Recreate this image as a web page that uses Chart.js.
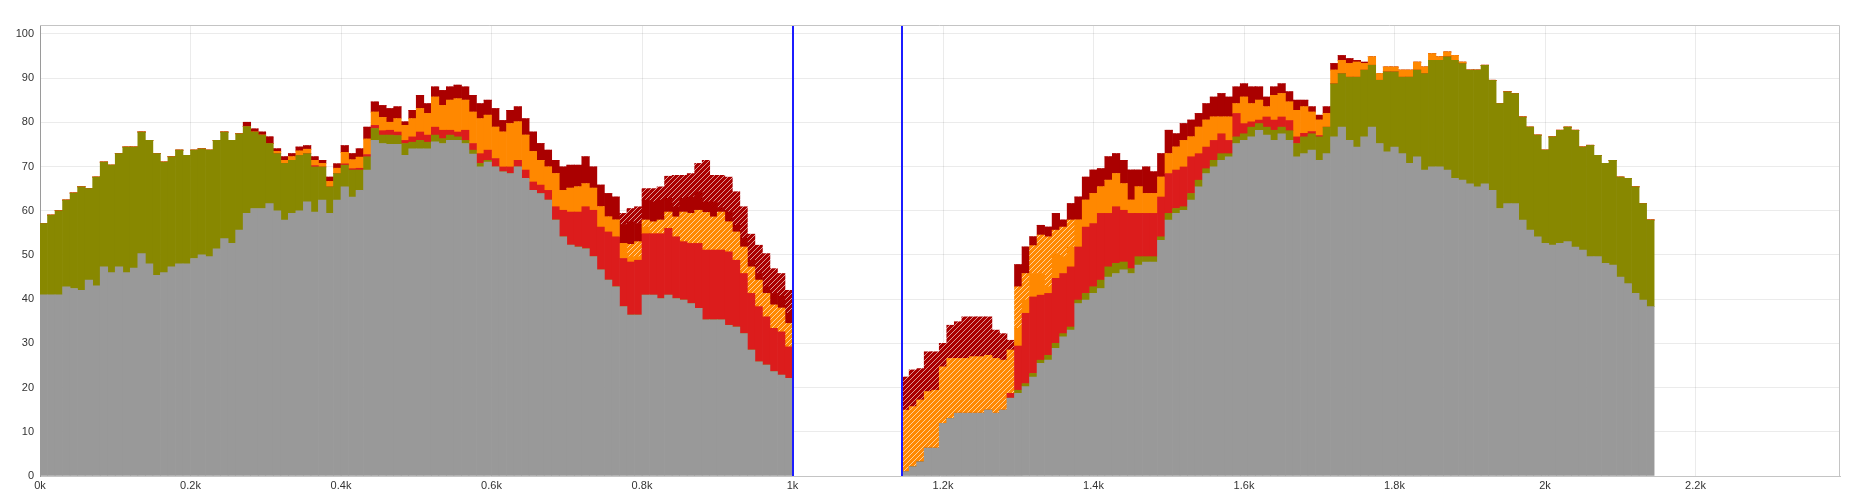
<!DOCTYPE html>
<html>
<head>
<meta charset="utf-8">
<script src="https://cdn.jsdelivr.net/npm/chart.js@4.4.1/dist/chart.umd.min.js"></script>
<style>
  html, body { margin: 0; padding: 0; background: #fff; }
  #wrap { width: 1857px; height: 504px; }
</style>
</head>
<body>
<div id="wrap"><canvas id="chart" width="1857" height="504"></canvas></div>
<script>
// two runs of 10-unit bins: 0..1000 and 1145..2145
const binWidth = 10;
const runStarts = [0, 1145];
const binsPerRun = 100;
const markerXs = [1000, 1145];
const xTicks = [0, 200, 400, 600, 800, 1000, 1200, 1400, 1600, 1800, 2000, 2200];
const yTicks = [0, 10, 20, 30, 40, 50, 60, 70, 80, 90, 100];

// each array: first 100 bins = first run, next 100 = second run
const gray = [
  41, 41, 41, 42.8, 42.4, 42, 44.3, 43, 47.3, 46,
  47.3, 46, 47, 50.3, 48, 45.4, 46, 47.3, 48, 48,
  49.2, 50, 49.6, 51.4, 53.7, 52.6, 55.6, 59.4, 60.5, 60.5,
  61.6, 60, 57.9, 59.4, 60, 62, 59.7, 62.4, 59.4, 62.4,
  65.4, 63.1, 64.6, 69.2, 75.9, 75.2, 75, 75, 72.5, 74,
  74, 74, 75.6, 75.2, 75.9, 75.9, 75.2, 72.8, 69.9, 71,
  69.9, 68.8, 68.4, 69.9, 67.3, 64.6, 63.9, 62.4, 57.9, 54.1,
  52.2, 51.8, 51.4, 49.6, 46.6, 44.3, 42.8, 38.3, 36.4, 36.4,
  40.9, 40.9, 40.1, 40.9, 40.1, 39.8, 39, 37.9, 35.3, 35.3,
  35.3, 34.1, 33.7, 32.2, 28.5, 25.8, 25.1, 23.6, 22.8, 22.1,

  1, 2.1, 3.2, 6.3, 6.3, 11.9, 13, 14.2, 14.2, 14.2,
  14.2, 14.9, 14.2, 14.9, 17.6, 18.7, 20.2, 22.4, 25.5, 26.2,
  28.9, 31.5, 33, 39, 39.8, 41.3, 42.4, 45, 45.8, 46.6,
  45.8, 47.7, 48.4, 48.4, 53.3, 57.9, 59.4, 60.1, 62.4, 65.4,
  68.4, 69.9, 71.4, 72.2, 75.2, 75.9, 76.7, 78.2, 77.1, 75.9,
  77.4, 75.9, 72.2, 72.9, 73.7, 71.4, 72.9, 76.7, 78.9, 75.9,
  74.4, 76.7, 78.9, 75.2, 73.3, 74.4, 72.9, 70.7, 72.2, 69.2,
  69.9, 69.9, 69.2, 67.3, 66.9, 66.1, 65.4, 66.1, 64.6, 60.5,
  61.6, 61.6, 57.9, 55.6, 54.1, 52.6, 52.2, 52.6, 53, 51.8,
  51.1, 49.6, 49.6, 48.1, 47.7, 45, 43.5, 41.3, 39.8, 38.3
];

const olive = [
  16.1, 18, 19, 19.6, 21.6, 23.4, 20.7, 24.6, 23.7, 24.3,
  25.6, 28.4, 27.4, 27.5, 27.9, 27.5, 25, 24.9, 25.7, 24.5,
  24.5, 24, 24.1, 24.5, 24.1, 23.3, 21.8, 19.6, 17.3, 16.6,
  13.6, 12.9, 12.8, 12, 12.5, 10.9, 10.2, 7.5, 6, 6,
  4.9, 6.1, 4.6, 3, 2.7, 1.9, 2.1, 2, 2.7, 1.5,
  1.9, 1.5, 1.5, 1.1, 1.2, 0.8, 0.7, 0.9, 0.8, 0.4,
  0, 0, 0, 0, 0, 0, 0, 0, 0, 0,
  0, 0, 0, 0, 0, 0, 0, 0, 0, 0,
  0, 0, 0, 0, 0, 0, 0, 0, 0, 0,
  0, 0, 0, 0, 0, 0, 0, 0, 0, 0,

  0, 0, 0, 0, 0, 0, 0, 0, 0, 0,
  0, 0, 0, 0, 0, 0.7, 0.7, 0.8, 0.7, 1.1,
  1.1, 0.7, 0.7, 0.8, 1.5, 1.5, 1.9, 2.3, 2.3, 1.8,
  1.1, 1.9, 1.2, 1.2, 0.8, 1.5, 1.1, 0.8, 1.5, 1.5,
  1.1, 1.5, 1.5, 0.7, 1.5, 1.5, 2.2, 1.5, 1.8, 2.3,
  1.5, 2.2, 3, 3.8, 3.7, 5.3, 6, 12, 12.1, 14.3,
  15.8, 15.1, 14, 14.3, 18.1, 17, 17.3, 19.5, 19.6, 21.8,
  24.1, 24.1, 25.6, 26.7, 26.4, 25.7, 26.4, 26.8, 24.9, 23.7,
  25.3, 24.9, 23.3, 23.3, 23, 21.1, 24.5, 25.6, 25.9, 26.4,
  23.3, 25.2, 22.9, 22.6, 23.7, 22.6, 23.8, 24.1, 21.8, 19.6
];

const red = [
  0, 0, 0, 0, 0, 0, 0, 0, 0, 0,
  0, 0, 0, 0, 0, 0, 0, 0, 0, 0,
  0, 0, 0, 0, 0, 0, 0, 0, 0, 0,
  0, 0, 0, 0, 0, 0, 0.3, 0, 0, 0,
  0.3, 0.3, 0.4, 0.5, 0.7, 1, 1.1, 0.8, 0.7, 1.2,
  1.9, 1.6, 1.8, 1.9, 1.1, 1.1, 2.3, 1.5, 2.2, 2.3,
  1.9, 1.1, 1.5, 1.5, 1.9, 1.9, 1.9, 2.2, 3, 6,
  7.5, 7.9, 9.5, 10.5, 9.7, 10.9, 11.3, 10.9, 12, 12.4,
  13.9, 13.9, 14.7, 15.1, 14, 13.2, 13.6, 14.7, 15.8, 15.8,
  15.8, 16.6, 15.1, 13.6, 12.8, 12.5, 10.9, 9.8, 9.8, 7.1,

  0, 0, 0, 0, 0, 0, 0, 0, 0, 0,
  0, 0, 0, 0, 1.1, 10, 15.9, 17.3, 14.7, 14,
  14.7, 13.6, 13.6, 12, 15, 14.3, 15.1, 12.1, 12.8, 11.7,
  12.5, 9.8, 9.8, 9.8, 9, 9, 8.7, 9, 8.3, 6,
  4.9, 4.5, 4.5, 3, 5.3, 2.3, 1.2, 0.8, 2.3, 2.3,
  2.3, 2.3, 1.5, 0.8, 0.5, 0.3, 0, 0, 0, 0,
  0, 0, 0, 0, 0, 0, 0, 0, 0, 0,
  0, 0, 0, 0, 0, 0, 0, 0, 0, 0,
  0, 0, 0, 0, 0, 0, 0, 0, 0, 0,
  0, 0, 0, 0, 0, 0, 0, 0, 0, 0
];

const orange = [
  0, 0, 0, 0, 0, 0, 0, 0, 0, 0,
  0, 0, 0, 0, 0, 0, 0, 0, 0, 0,
  0, 0, 0, 0, 0, 0, 0, 0, 0, 0,
  0, 0.5, 0.7, 0.8, 1, 1, 1.2, 0.8, 1.2, 1.2,
  2.6, 2, 2.5, 3.5, 3, 3, 1.8, 3, 3.4, 4.1,
  5.3, 4.9, 6.8, 5.6, 6.8, 7.5, 6.8, 7.1, 7.9, 7.9,
  7.1, 7.9, 9.8, 8.7, 7.9, 6.9, 5.6, 5.3, 7.5, 4.5,
  5.4, 5.7, 5.2, 5, 4.6, 3.4, 3.8, 3.4, 1.2, 0.8,
  1.5, 0, 0, 0, 0, 0, 0, 0, 0, 0,
  0, 0, 0, 0, 0, 0, 0, 0, 0, 0,

  0, 0, 0, 0, 0, 0, 0, 0, 0, 0,
  0, 0, 0, 0, 0, 4, 3, 5.3, 4.9, 1.5,
  5.6, 3.8, 4.5, 6.1, 6.1, 6.8, 6, 7.5, 7.5, 6,
  3, 6, 4.5, 4.5, 4.5, 4.5, 5.2, 6, 4.5, 6,
  6.1, 5.3, 3.8, 5.3, 2.2, 6, 4.1, 4.5, 2.3, 5.6,
  5.3, 4.2, 6, 6, 4.4, 3.5, 3.1, 3.1, 3, 3.1,
  3.4, 1.5, 1.9, 1.5, 1.1, 1.1, 1.6, 1.6, 1.8, 1.5,
  1.5, 0.8, 1.1, 1.1, 0.3, 0, 0, 0, 0, 0,
  0, 0, 0, 0, 0, 0, 0, 0, 0, 0,
  0, 0, 0, 0, 0, 0, 0, 0, 0, 0
];

const orangeHatched = [
  0, 0, 0, 0, 0, 0, 0, 0, 0, 0,
  0, 0, 0, 0, 0, 0, 0, 0, 0, 0,
  0, 0, 0, 0, 0, 0, 0, 0, 0, 0,
  0, 0, 0, 0, 0, 0, 0, 0, 0, 0,
  0, 0, 0, 0, 0, 0, 0, 0, 0, 0,
  0, 0, 0, 0, 0, 0, 0, 0, 0, 0,
  0, 0, 0, 0, 0, 0, 0, 0, 0, 0,
  0, 0, 0, 0, 0, 0, 0, 0, 2.8, 3.4,
  1.6, 2.7, 3.1, 3.7, 4.5, 6.7, 6.8, 7.5, 8.5, 7.5,
  8.6, 6.8, 6.4, 6, 6, 6, 5.3, 5.3, 5.4, 5.3,

  13.9, 13.6, 14, 12.8, 13.1, 12.8, 13.6, 12.4, 12.4, 12.8,
  12.8, 12.4, 12.4, 11.3, 9.8, 9.4, 6, 6.3, 8.7, 11.3,
  5.3, 6.7, 6.1, 0, 0, 0, 0, 0, 0, 0,
  0, 0, 0, 0, 0, 0, 0, 0, 0, 0,
  0, 0, 0, 0, 0, 0, 0, 0, 0, 0,
  0, 0, 0, 0, 0, 0, 0, 0, 0, 0,
  0, 0, 0, 0, 0, 0, 0, 0, 0, 0,
  0, 0, 0, 0, 0, 0, 0, 0, 0, 0,
  0, 0, 0, 0, 0, 0, 0, 0, 0, 0,
  0, 0, 0, 0, 0, 0, 0, 0, 0, 0
];

const darkRed = [
  0, 0, 0, 0, 0, 0, 0, 0, 0, 0,
  0, 0, 0, 0, 0, 0, 0, 0, 0, 0,
  0, 0, 0, 0, 0, 0, 0, 1, 0.7, 0.7,
  1.5, 0.6, 0.8, 0.7, 0.9, 0.8, 0.8, 0.7, 1, 1,
  1.5, 1.4, 1.9, 2.7, 2.3, 2.7, 3.1, 2.7, 0.8, 1.9,
  3, 2.2, 2.3, 3.4, 3, 3.1, 3, 3.8, 3.4, 3.4,
  4.2, 2.6, 3, 3.4, 3.7, 4.4, 3.8, 3.8, 3, 5.3,
  5.2, 4.9, 6.1, 4.8, 4.9, 5.3, 5.2, 4.3, 5.1, 4.1,
  4.5, 4.5, 4.5, 3.1, 2.3, 3.1, 3.7, 4.2, 2.4, 3.4,
  1, 2.2, 1.5, 2, 1.5, 1.5, 1.5, 2.6, 2.7, 2.3,

  0, 0, 0, 0, 0, 0, 0, 0, 0, 0,
  0, 0, 0, 0, 0, 5, 6, 2, 2.2, 2.2,
  3.8, 1.6, 3.7, 5.2, 5.2, 5.3, 4.1, 5.3, 4.5, 5.3,
  6.8, 3.8, 6, 4.9, 5.3, 5.3, 3, 3.8, 3.8, 3.1,
  3.7, 4.5, 5.3, 4.5, 3.8, 3, 3.8, 3, 2.2, 1.9,
  2.2, 2.3, 2.3, 1.5, 1.2, 1.1, 1.5, 1.5, 1.1, 1.1,
  0.4, 0.3, 0, 0, 0, 0, 0, 0, 0, 0,
  0, 0, 0, 0, 0, 0, 0, 0, 0, 0,
  0, 0, 0, 0, 0, 0, 0, 0, 0, 0,
  0, 0, 0, 0, 0, 0, 0, 0, 0, 0
];

const darkRedHatched = [
  0, 0, 0, 0, 0, 0, 0, 0, 0, 0,
  0, 0, 0, 0, 0, 0, 0, 0, 0, 0,
  0, 0, 0, 0, 0, 0, 0, 0, 0, 0,
  0, 0, 0, 0, 0, 0, 0, 0, 0, 0,
  0, 0, 0, 0, 0, 0, 0, 0, 0, 0,
  0, 0, 0, 0, 0, 0, 0, 0, 0, 0,
  0, 0, 0, 0, 0, 0, 0, 0, 0, 0,
  0, 0, 0, 0, 0, 0, 0, 2.5, 3, 3.8,
  2.6, 3, 3, 5, 7.1, 5.2, 5.3, 6.4, 9.4, 6,
  7.3, 7.9, 7.6, 7.1, 5.9, 6.4, 7.5, 5.6, 5.1, 5.2,

  7.5, 8.3, 7.1, 9, 8.7, 5.3, 7.5, 8.3, 9.4, 9,
  9, 8.7, 6.4, 6, 2.2, 0, 0, 0, 0, 0,
  0, 0, 0, 0, 0, 0, 0, 0, 0, 0,
  0, 0, 0, 0, 0, 0, 0, 0, 0, 0,
  0, 0, 0, 0, 0, 0, 0, 0, 0, 0,
  0, 0, 0, 0, 0, 0, 0, 0, 0, 0,
  0, 0, 0, 0, 0, 0, 0, 0, 0, 0,
  0, 0, 0, 0, 0, 0, 0, 0, 0, 0,
  0, 0, 0, 0, 0, 0, 0, 0, 0, 0,
  0, 0, 0, 0, 0, 0, 0, 0, 0, 0
];

// bin centres
const binCenters = [];
runStarts.forEach(start => {
  for (let i = 0; i < binsPerRun; i++) binCenters.push(start + binWidth * (i + 0.5));
});

function hatch(color) {
  const c = document.createElement('canvas');
  c.width = 5;
  c.height = 5;
  const g = c.getContext('2d');
  g.fillStyle = color;
  g.fillRect(0, 0, 5, 5);
  g.strokeStyle = 'rgba(255,255,255,0.6)';
  g.lineWidth = 1;
  g.beginPath();
  g.moveTo(0, 5); g.lineTo(5, 0);
  g.moveTo(-1, 1); g.lineTo(1, -1);
  g.moveTo(4, 6); g.lineTo(6, 4);
  g.stroke();
  return g.createPattern(c, 'repeat');
}

function series(values, fill) {
  return {
    data: values.map((v, i) => ({ x: binCenters[i], y: v })),
    backgroundColor: fill,
    borderWidth: 0,
    barPercentage: 1,
    categoryPercentage: 1
  };
}

const markers = {
  id: 'markers',
  afterDatasetsDraw(chart) {
    const { ctx, chartArea: a, scales: { x } } = chart;
    ctx.save();
    ctx.strokeStyle = '#1c1cff';
    ctx.lineWidth = 2;
    markerXs.forEach(v => {
      const px = Math.round(x.getPixelForValue(v));
      ctx.beginPath();
      ctx.moveTo(px, a.top);
      ctx.lineTo(px, a.bottom);
      ctx.stroke();
    });
    ctx.restore();
  },
  afterDraw(chart) {
    const { ctx, chartArea: a } = chart;
    ctx.save();
    ctx.lineWidth = 1;
    ctx.strokeStyle = '#c4c4c4';
    ctx.beginPath();
    ctx.moveTo(a.left, a.top + 0.5);
    ctx.lineTo(a.right - 0.5, a.top + 0.5);
    ctx.lineTo(a.right - 0.5, a.bottom);
    ctx.stroke();
    ctx.restore();
  }
};

const tickFont = { family: '"Liberation Sans", Arial, sans-serif', size: 11 };

new Chart(document.getElementById('chart'), {
  type: 'bar',
  data: {
    datasets: [
      series(gray, '#999999'),
      series(olive, '#888800'),
      series(red, '#dc1c1c'),
      series(orange, '#ff8800'),
      series(orangeHatched, hatch('#ff8800')),
      series(darkRed, '#aa0000'),
      series(darkRedHatched, hatch('#aa0000'))
    ]
  },
  options: {
    responsive: false,
    devicePixelRatio: 1,
    animation: false,
    events: [],
    layout: { padding: { top: 25, right: 17, left: 0, bottom: 0 } },
    plugins: { legend: { display: false }, tooltip: { enabled: false } },
    scales: {
      x: {
        type: 'linear',
        stacked: true,
        offset: false,
        min: 0,
        max: 2392,
        z: 1,
        afterFit: s => { s.height = 28; },
        afterBuildTicks: s => { s.ticks = xTicks.map(v => ({ value: v })); },
        grid: { color: 'rgba(0,0,0,0.08)', drawTicks: false, offset: false },
        border: { color: '#c4c4c4' },
        ticks: {
          autoSkip: false,
          padding: 3,
          color: '#333',
          font: tickFont,
          maxRotation: 0,
          callback: v => (v / 1000) + 'k'
        }
      },
      y: {
        stacked: true,
        min: 0,
        max: 102,
        z: 1,
        afterFit: s => { s.width = 40; },
        afterBuildTicks: s => { s.ticks = yTicks.map(v => ({ value: v })); },
        grid: { color: 'rgba(0,0,0,0.08)', drawTicks: false },
        border: { color: '#9a9a9a' },
        ticks: { autoSkip: false, padding: 6, color: '#333', font: tickFont }
      }
    }
  },
  plugins: [markers]
});
</script>
</body>
</html>
